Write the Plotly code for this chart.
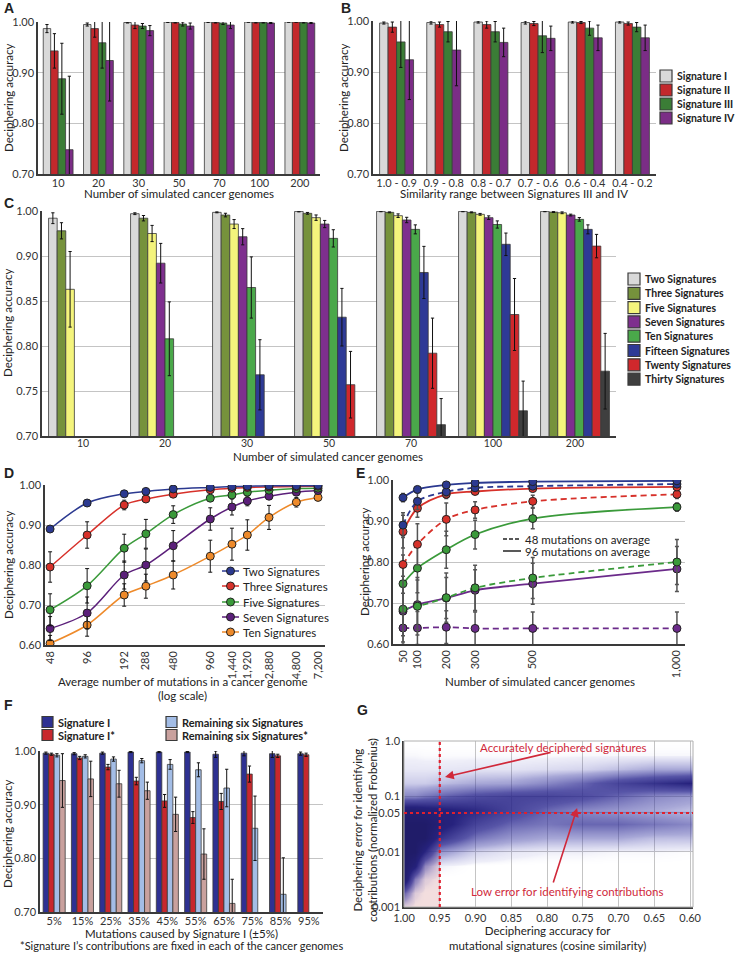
import numpy as np
import plotly.graph_objects as go

W, H = 739, 954
FONT = "Lato"
LBL = "Liberation Sans"

def fx(p):
    return p / W

def fy(p):
    return 1 - p / H

# ---------------- Panel A data ----------------
a_cats = ["10", "20", "30", "50", "70", "100", "200"]
a_sig1 = [0.987, 0.995, 0.999, 1.000, 1.000, 1.000, 1.000]
a_sig1_err = [0.008, 0.003, 0.001, 0.001, 0.001, 0.0005, 0.0005]
a_sig2 = [0.943, 0.987, 0.994, 0.999, 0.999, 0.999, 1.000]
a_sig2_err = [0.034, 0.017, 0.007, 0.001, 0.001, 0.001, 0.0005]
a_sig3 = [0.888, 0.959, 0.992, 0.996, 0.998, 0.999, 0.999]
a_sig3_err = [0.070, 0.050, 0.005, 0.004, 0.003, 0.001, 0.001]
a_sig4 = [0.748, 0.924, 0.983, 0.992, 0.994, 0.998, 0.998]
a_sig4_err = [0.145, 0.080, 0.010, 0.006, 0.007, 0.001, 0.001]

# ---------------- Panel B data ----------------
b_cats = ["1.0 - 0.9", "0.9 - 0.8", "0.8 - 0.7", "0.7 - 0.6", "0.6 - 0.4", "0.4 - 0.2"]
b_sig1 = [0.996, 0.997, 0.998, 0.997, 0.998, 0.998]
b_sig1_err = [0.002, 0.003, 0.002, 0.003, 0.002, 0.002]
b_sig2 = [0.988, 0.993, 0.993, 0.995, 0.997, 0.995]
b_sig2_err = [0.010, 0.005, 0.007, 0.004, 0.002, 0.003]
b_sig3 = [0.959, 0.979, 0.979, 0.971, 0.986, 0.988]
b_sig3_err = [0.050, 0.020, 0.020, 0.033, 0.014, 0.009]
b_sig4 = [0.924, 0.943, 0.958, 0.966, 0.967, 0.967]
b_sig4_err = [0.078, 0.070, 0.028, 0.024, 0.025, 0.025]

sig_names = ["Signature I", "Signature II", "Signature III", "Signature IV"]
sig_colors = ["#d9d9d9", "#c3282c", "#3b7d36", "#7b2d86"]

# ---------------- Panel C data ----------------
c_cats = ["10", "20", "30", "50", "70", "100", "200"]
c_names = ["Two Signatures", "Three Signatures", "Five Signatures", "Seven Signatures",
           "Ten Signatures", "Fifteen Signatures", "Twenty Signatures", "Thirty Signatures"]
c_colors = ["#d9d9d9", "#76923c", "#f4f47c", "#7e2f8e", "#4aa84a", "#2e3a96", "#d0282c", "#3f3f3f"]
c_two = [0.992, 0.997, 0.9985, 0.9995, 0.9996, 0.9996, 0.9996]
c_two_err = [0.006, 0.001, 0.0005, 0.0005, 0.0004, 0.0004, 0.0004]
c_three = [0.978, 0.992, 0.9955, 0.9974, 0.9985, 0.9985, 0.9988]
c_three_err = [0.009, 0.003, 0.002, 0.001, 0.0005, 0.0005, 0.0005]
c_five = [0.913, 0.975, 0.9855, 0.9926, 0.9948, 0.9963, 0.998]
c_five_err = [0.042, 0.009, 0.005, 0.003, 0.002, 0.001, 0.001]
c_seven = [None, 0.942, 0.9714, 0.9855, 0.990, 0.9926, 0.9955]
c_seven_err = [None, 0.022, 0.009, 0.004, 0.003, 0.002, 0.001]
c_ten = [None, 0.858, 0.915, 0.9696, 0.9796, 0.985, 0.9907]
c_ten_err = [None, 0.041, 0.034, 0.0096, 0.005, 0.004, 0.002]
c_fifteen = [None, None, 0.818, 0.882, 0.9317, 0.963, 0.9796]
c_fifteen_err = [None, None, 0.039, 0.032, 0.029, 0.0125, 0.005]
c_twenty = [None, None, None, 0.807, 0.842, 0.885, 0.961]
c_twenty_err = [None, None, None, 0.037, 0.039, 0.040, 0.013]
c_thirty = [None, None, None, None, 0.7626, 0.778, 0.822]
c_thirty_err = [None, None, None, None, 0.029, 0.033, 0.042]
c_ytickvals = [0.75, 0.80, 0.85, 0.90, 0.95, 1.00]
c_yticktext = ["0.70", "0.75", "0.80", "0.85", "0.90", "1.00"]

# ---------------- Panel D data ----------------
d_x = [48, 96, 192, 288, 480, 960, 1440, 1920, 2880, 4800, 7200]
d_tick = ["48", "96", "192", "288", "480", "960", "1,440", "1,920", "2,880", "4,800", "7,200"]
d_names = ["Two Signatures", "Three Signatures", "Five Signatures", "Seven Signatures", "Ten Signatures"]
d_colors = ["#2b3990", "#d7312a", "#3a9a3a", "#5b1f7a", "#ee8a2a"]
d_two = [0.890, 0.955, 0.978, 0.984, 0.990, 0.994, 0.996, 0.997, 0.998, 0.998, 0.999]
d_two_err = [0.004, 0.003, 0.002, 0.002, 0.002, 0.001, 0.001, 0.001, 0.001, 0.001, 0.001]
d_three = [0.795, 0.875, 0.950, 0.965, 0.977, 0.988, 0.992, 0.994, 0.995, 0.996, 0.997]
d_three_err = [0.038, 0.033, 0.012, 0.006, 0.004, 0.003, 0.002, 0.002, 0.002, 0.001, 0.001]
d_five = [0.688, 0.748, 0.842, 0.878, 0.926, 0.967, 0.975, 0.982, 0.987, 0.991, 0.992]
d_five_err = [0.040, 0.043, 0.035, 0.036, 0.022, 0.006, 0.005, 0.004, 0.003, 0.002, 0.002]
d_seven = [0.641, 0.680, 0.775, 0.800, 0.848, 0.915, 0.945, 0.960, 0.972, 0.982, 0.986]
d_seven_err = [0.030, 0.040, 0.035, 0.040, 0.038, 0.028, 0.020, 0.012, 0.006, 0.005, 0.004]
d_ten = [0.604, 0.650, 0.725, 0.747, 0.775, 0.822, 0.852, 0.875, 0.919, 0.957, 0.969]
d_ten_err = [0.020, 0.028, 0.028, 0.030, 0.035, 0.040, 0.040, 0.038, 0.030, 0.012, 0.008]

# ---------------- Panel E data ----------------
e_x = [50, 100, 200, 300, 500, 1000]
e_tick = ["50", "100", "200", "300", "500", "1,000"]
e_two_96 = [0.957, 0.977, 0.988, 0.993, 0.996, 0.998]
e_two_96_err = [0.010, 0.005, 0.004, 0.003, 0.003, 0.002]
e_two_48 = [0.890, 0.948, 0.971, 0.981, 0.985, 0.990]
e_two_48_err = [0.030, 0.020, 0.010, 0.008, 0.006, 0.005]
e_three_96 = [0.874, 0.931, 0.965, 0.972, 0.979, 0.983]
e_three_96_err = [0.040, 0.022, 0.010, 0.006, 0.005, 0.004]
e_three_48 = [0.794, 0.843, 0.904, 0.927, 0.948, 0.965]
e_three_48_err = [0.070, 0.050, 0.040, 0.020, 0.015, 0.010]
e_five_96 = [0.747, 0.785, 0.830, 0.867, 0.906, 0.934]
e_five_96_err = [0.070, 0.060, 0.045, 0.035, 0.025, 0.010]
e_five_48 = [0.685, 0.692, 0.713, 0.737, 0.761, 0.800]
e_five_48_err = [0.080, 0.070, 0.060, 0.055, 0.050, 0.055]
e_seven_96 = [0.680, 0.696, 0.712, 0.731, 0.747, 0.783]
e_seven_96_err = [0.060, 0.060, 0.050, 0.050, 0.050, 0.055]
e_seven_48 = [0.639, 0.639, 0.641, 0.638, 0.638, 0.638]
e_seven_48_err = [0.040, 0.040, 0.040, 0.040, 0.040, 0.040]

# ---------------- Panel F data ----------------
f_cats = ["5%", "15%", "25%", "35%", "45%", "55%", "65%", "75%", "85%", "95%"]
f_names = ["Signature I", "Signature I*", "Remaining six Signatures", "Remaining six Signatures*"]
f_colors = ["#2e3192", "#c8282d", "#a3bde6", "#c9a19e"]
f_sig1 = [0.996, 0.995, 0.996, 0.998, 0.998, 0.998, 0.994, 0.996, 0.995, 0.995]
f_sig1_err = [0.002, 0.002, 0.002, 0.001, 0.001, 0.001, 0.006, 0.005, 0.007, 0.003]
f_sig1s = [0.994, 0.987, 0.970, 0.944, 0.907, 0.876, 0.906, 0.957, 0.991, 0.993]
f_sig1s_err = [0.002, 0.003, 0.005, 0.007, 0.012, 0.011, 0.015, 0.015, 0.003, 0.003]
f_rem = [0.992, 0.990, 0.985, 0.982, 0.975, 0.965, 0.931, 0.856, 0.733, None]
f_rem_err = [0.003, 0.003, 0.004, 0.004, 0.009, 0.013, 0.035, 0.060, 0.068, None]
f_rems = [0.945, 0.948, 0.939, 0.926, 0.882, 0.808, 0.716, None, None, None]
f_rems_err = [0.050, 0.033, 0.025, 0.016, 0.032, 0.047, 0.045, None, None, None]

# ---------------- Panel G data (estimated point density) ----------------
g_x = [1.00, 0.985, 0.97, 0.95, 0.90, 0.85, 0.80, 0.75, 0.70, 0.65, 0.60]
g_log_err = [-3.0, -2.75, -2.5, -2.25, -2.0, -1.75, -1.5, -1.25, -1.0, -0.75, -0.5, -0.25, 0.0]
g_col_100 = [0.3, 4, 10, 10, 10, 10, 10, 9, 3, 1.2, 0.5, 0.2, 0]
g_col_0985 = [0, 0.5, 3, 8, 10, 10, 10, 9, 3, 1.2, 0.5, 0.2, 0]
g_col_097 = [0, 0, 0.5, 2.5, 7, 10, 10, 8.5, 3.5, 1.2, 0.5, 0.15, 0]
g_col_095 = [0, 0, 0, 0.3, 2.5, 6.5, 8.5, 8, 4, 1.5, 0.5, 0.15, 0]
g_col_090 = [0, 0, 0, 0, 1, 3.5, 5.5, 7, 5, 2, 0.6, 0.15, 0]
g_col_085 = [0, 0, 0, 0, 0.5, 2.5, 4, 5.5, 5.5, 2.2, 0.6, 0.15, 0]
g_col_080 = [0, 0, 0, 0, 0.3, 2, 3.5, 4, 5.5, 3, 0.8, 0.15, 0]
g_col_075 = [0, 0, 0, 0, 0.3, 2, 4, 3, 5, 4, 1, 0.2, 0]
g_col_070 = [0, 0, 0, 0, 0.2, 2, 4, 2.5, 4, 5.5, 1.5, 0.2, 0]
g_col_065 = [0, 0, 0, 0, 0.2, 1.5, 3.5, 2, 3, 6.5, 2, 0.2, 0]
g_col_060 = [0, 0, 0, 0, 0.1, 1.5, 3, 1.5, 2.5, 7.5, 2, 0.2, 0]
g_xticks = [1.00, 0.95, 0.90, 0.85, 0.80, 0.75, 0.70, 0.65, 0.60]
g_yticks = [0.001, 0.01, 0.05, 0.1, 1.0]
g_yticktext = ["0.001", "0.01", "0.05", "0.1", "1.0"]
g_acc_threshold = 0.95
g_err_threshold = 0.05

# =========================================================
fig = go.Figure()
layout = {}
shapes = []
annotations = []

TICKFONT = dict(family=FONT, size=11, color="#333")
GRID = "#c4c4c4"
AXLINE = "#3a3a3a"


def axis_keys(n):
    return ("xaxis" if n == 1 else f"xaxis{n}", "yaxis" if n == 1 else f"yaxis{n}",
            "x" if n == 1 else f"x{n}", "y" if n == 1 else f"y{n}")


def set_axes(n, xdom, ydom, xargs, yargs):
    xk, yk, xr, yr = axis_keys(n)
    xa = dict(domain=[fx(xdom[0]), fx(xdom[1])], anchor=yr, showline=True, linecolor=AXLINE,
              linewidth=1.5, ticks="", showgrid=False, zeroline=False, tickfont=TICKFONT,
              fixedrange=True, automargin=False)
    ya = dict(domain=[fy(ydom[1]), fy(ydom[0])], anchor=xr, showline=True, linecolor=AXLINE,
              linewidth=1.5, ticks="", showgrid=True, gridcolor=GRID, gridwidth=1, zeroline=False,
              tickfont=TICKFONT, fixedrange=True, automargin=False)
    xa.update(xargs)
    ya.update(yargs)
    layout[xk] = xa
    layout[yk] = ya
    return xr, yr


def ann(text, x, y, size=11.5, bold=False, color="#222", angle=0, xanchor="center",
        family=FONT, yanchor="middle"):
    if bold:
        text = f"<b>{text}</b>"
    annotations.append(dict(text=text, x=fx(x), y=fy(y), xref="paper", yref="paper",
                            showarrow=False, font=dict(family=family, size=size, color=color),
                            textangle=angle, xanchor=xanchor, yanchor=yanchor))


def add_bars(xr, yr, cats, series, errs, colors, gw):
    n = len(series)
    w = gw / n
    for i, (vals, er, col) in enumerate(zip(series, errs, colors)):
        fig.add_trace(go.Bar(
            x=cats, y=vals, width=w, offset=-gw / 2 + i * w, xaxis=xr, yaxis=yr,
            marker=dict(color=col, line=dict(color="#3a3a3a", width=0.8)),
            error_y=dict(type="data", array=er, color="#111", thickness=1, width=1.6),
            showlegend=False, hoverinfo="skip"))


def box_legend(names, colors, x0, rows, size=11, boxw=12, boxh=12):
    for nm, col, yy in zip(names, colors, rows):
        shapes.append(dict(type="rect", xref="paper", yref="paper", x0=fx(x0), x1=fx(x0 + boxw),
                           y0=fy(yy + boxh / 2), y1=fy(yy - boxh / 2), fillcolor=col,
                           line=dict(color="#3a3a3a", width=1.2)))
        ann(nm, x0 + boxw + 3, yy, size=size, bold=True, xanchor="left")


# ---------------- Panel A ----------------
xr, yr = set_axes(1, [38, 320], [22, 174],
                  dict(type="category", range=[-0.5, 6.5], ticklabelstandoff=-2),
                  dict(range=[0.70, 1.00], tickvals=[0.7, 0.8, 0.9, 1.0], tickformat=".2f"))
add_bars(xr, yr, a_cats, [a_sig1, a_sig2, a_sig3, a_sig4],
         [a_sig1_err, a_sig2_err, a_sig3_err, a_sig4_err], sig_colors, 0.74)
ann("A", 2, 8, size=14, bold=True, family=LBL, xanchor="left")
ann("Number of simulated cancer genomes", 179, 193)
ann("Deciphering accuracy", 8, 98, angle=-90)

# ---------------- Panel B ----------------
xr, yr = set_axes(2, [373, 656], [21, 174],
                  dict(type="category", range=[-0.5, 5.5], ticklabelstandoff=-2),
                  dict(range=[0.70, 1.00], tickvals=[0.7, 0.8, 0.9, 1.0], tickformat=".2f"))
add_bars(xr, yr, b_cats, [b_sig1, b_sig2, b_sig3, b_sig4],
         [b_sig1_err, b_sig2_err, b_sig3_err, b_sig4_err], sig_colors, 0.72)
ann("B", 339, 8, size=14, bold=True, family=LBL, xanchor="left")
ann("Similarity range between Signatures III and IV", 514, 193)
ann("Deciphering accuracy", 343, 98, angle=-90)
box_legend(sig_names, sig_colors, 660, [76, 90, 104, 118], size=10.5)

# ---------------- Panel C ----------------
xr, yr = set_axes(3, [42, 616], [211, 436],
                  dict(type="category", range=[-0.5, 6.5], ticklabelstandoff=-3,
                       tickfont=dict(family=FONT, size=10.5, color="#333")),
                  dict(range=[0.75, 1.00], tickvals=c_ytickvals, ticktext=c_yticktext))
add_bars(xr, yr, c_cats,
         [c_two, c_three, c_five, c_seven, c_ten, c_fifteen, c_twenty, c_thirty],
         [c_two_err, c_three_err, c_five_err, c_seven_err, c_ten_err, c_fifteen_err,
          c_twenty_err, c_thirty_err], c_colors, 0.84)
ann("C", 2, 203, size=14, bold=True, family=LBL, xanchor="left")
ann("Number of simulated cancer genomes", 328, 456)
ann("Deciphering accuracy", 8, 323, angle=-90)
box_legend(c_names, c_colors, 628, [279 + i * 14.3 for i in range(8)], size=10.5)

# ---------------- Panel D ----------------
xr, yr = set_axes(4, [45, 325], [485, 645],
                  dict(type="log", range=[1.640, 3.914], tickvals=d_x, ticktext=d_tick,
                       tickangle=-90),
                  dict(range=[0.60, 1.00], tickvals=[0.6, 0.7, 0.8, 0.9, 1.0], tickformat=".2f"))
d_series = [d_two, d_three, d_five, d_seven, d_ten]
d_errs = [d_two_err, d_three_err, d_five_err, d_seven_err, d_ten_err]
for vals, er, col in reversed(list(zip(d_series, d_errs, d_colors))):
    fig.add_trace(go.Scatter(
        x=d_x, y=vals, xaxis=xr, yaxis=yr, mode="lines+markers",
        line=dict(color=col, width=1.5, shape="spline", smoothing=0.9),
        marker=dict(size=8, color=col, line=dict(color="#222", width=1)),
        error_y=dict(type="data", array=er, color="#111", thickness=1, width=2),
        showlegend=False, hoverinfo="skip"))
ann("D", 2, 473, size=14, bold=True, family=LBL, xanchor="left")
ann("Average number of mutations in a cancer genome", 182, 681)
ann("(log scale)", 182, 695)
ann("Deciphering accuracy", 8, 565, angle=-90)
d_rows = [571, 586, 602, 617, 632]
for nm, col, yy in zip(d_names, d_colors, d_rows):
    shapes.append(dict(type="line", xref="paper", yref="paper", x0=fx(222), x1=fx(239),
                       y0=fy(yy), y1=fy(yy), line=dict(color=col, width=1.5)))
    shapes.append(dict(type="circle", xref="paper", yref="paper", x0=fx(226.5), x1=fx(234.5),
                       y0=fy(yy + 4), y1=fy(yy - 4), fillcolor=col,
                       line=dict(color="#222", width=1)))
    ann(nm, 241, yy, size=11.5, xanchor="left")

# ---------------- Panel E ----------------
xr, yr = set_axes(5, [393, 685], [480, 644],
                  dict(range=[15.3, 1028], tickvals=e_x, ticktext=e_tick, tickangle=-90),
                  dict(range=[0.60, 1.00], tickvals=[0.6, 0.7, 0.8, 0.9, 1.0], tickformat=".2f"))
e_series = [
    (e_seven_48, e_seven_48_err, "#6b2a8a", "dash"),
    (e_seven_96, e_seven_96_err, "#6b2a8a", "solid"),
    (e_five_48, e_five_48_err, "#3a9a3a", "dash"),
    (e_five_96, e_five_96_err, "#3a9a3a", "solid"),
    (e_three_48, e_three_48_err, "#d7312a", "dash"),
    (e_three_96, e_three_96_err, "#d7312a", "solid"),
    (e_two_48, e_two_48_err, "#2b3990", "dash"),
    (e_two_96, e_two_96_err, "#2b3990", "solid"),
]
for vals, er, col, dash in e_series:
    fig.add_trace(go.Scatter(
        x=e_x, y=vals, xaxis=xr, yaxis=yr, mode="lines+markers",
        line=dict(color=col, width=1.8, shape="spline", smoothing=0.9,
                  dash="6px,4px" if dash == "dash" else "solid"),
        marker=dict(size=8, color=col, line=dict(color="#222", width=1)),
        error_y=dict(type="data", array=er, color="#555", thickness=1.5, width=2),
        showlegend=False, hoverinfo="skip"))
ann("E", 354, 473, size=14, bold=True, family=LBL, xanchor="left")
ann("Number of simulated cancer genomes", 540, 681)
ann("Deciphering accuracy", 364, 562, angle=-90)
for label, dash, yy in [("48 mutations on average", "4px,2px", 539),
                        ("96 mutations on average", "solid", 551)]:
    shapes.append(dict(type="line", xref="paper", yref="paper", x0=fx(503), x1=fx(521),
                       y0=fy(yy), y1=fy(yy), line=dict(color="#222", width=1.5, dash=dash)))
    ann(label, 523, yy, size=11.5, xanchor="left")

# ---------------- Panel F ----------------
xr, yr = set_axes(6, [40, 323], [751, 912],
                  dict(type="category", range=[-0.5, 9.5], ticklabelstandoff=-2),
                  dict(range=[0.70, 1.00], tickvals=[0.7, 0.8, 0.9, 1.0], tickformat=".2f"))
add_bars(xr, yr, f_cats, [f_sig1, f_sig1s, f_rem, f_rems],
         [f_sig1_err, f_sig1s_err, f_rem_err, f_rems_err], f_colors, 0.78)
ann("F", 2, 705, size=14, bold=True, family=LBL, xanchor="left")
ann("Mutations caused by Signature I (±5%)", 181, 933)
ann("*Signature I’s contributions are fixed in each of the cancer genomes", 181, 945, size=11)
ann("Deciphering accuracy", 7, 834, angle=-90)
box_legend(f_names[:2], f_colors[:2], 42, [722, 735], size=11, boxw=11, boxh=11)
box_legend(f_names[2:], f_colors[2:], 166, [722, 735], size=11, boxw=11, boxh=11)

# ---------------- Panel G ----------------
g_ylog_ticks = [float(np.log10(v)) for v in g_yticks]
xr, yr = set_axes(7, [404, 693], [741, 907],
                  dict(range=[1.0, 0.596], tickvals=g_xticks,
                       ticktext=[f"{v:.2f}" for v in g_xticks], showgrid=True,
                       gridcolor=GRID, gridwidth=1),
                  dict(range=[-3, 0], tickvals=g_ylog_ticks, ticktext=g_yticktext))
g_z = np.array([g_col_100, g_col_0985, g_col_097, g_col_095, g_col_090, g_col_085, g_col_080,
                g_col_075, g_col_070, g_col_065, g_col_060]).T
fig.add_trace(go.Heatmap(
    x=g_x, y=g_log_err, z=g_z, xaxis=xr, yaxis=yr, zsmooth="best", zmin=0, zmax=10,
    colorscale=[[0, "rgba(255,255,255,0)"], [0.03, "rgba(90,90,190,0.10)"],
                [0.2, "rgba(60,60,165,0.45)"], [0.45, "rgba(45,42,145,0.8)"],
                [0.75, "rgb(38,34,125)"], [1, "rgb(32,28,105)"]],
    showscale=False, hoverinfo="skip"))
g_thr_log = float(np.log10(g_err_threshold))
shapes.append(dict(type="rect", xref=xr, yref=yr, x0=1.0, x1=g_acc_threshold, y0=-3, y1=g_thr_log,
                   fillcolor="#f3dede", line=dict(width=0), layer="below"))
shapes.append(dict(type="rect", xref=xr + " domain", yref=yr + " domain", x0=0, x1=1, y0=0, y1=1,
                   line=dict(color="#b0b0b0", width=1), layer="above"))
shapes.append(dict(type="line", xref=xr, yref=yr, x0=g_acc_threshold, x1=g_acc_threshold,
                   y0=-3, y1=0, line=dict(color="#e0202e", width=2.2, dash="dot")))
shapes.append(dict(type="line", xref=xr, yref=yr, x0=1.0, x1=0.596, y0=g_thr_log, y1=g_thr_log,
                   line=dict(color="#e0202e", width=2.2, dash="dot")))
RED = "#d0283a"
annotations.append(dict(text="", xref=xr, yref=yr, axref=xr, ayref=yr, x=0.9427, y=-0.651,
                        ax=0.793, ay=-0.199, showarrow=True, arrowhead=2, arrowsize=1.1,
                        arrowwidth=1.6, arrowcolor=RED))
annotations.append(dict(text="", xref=xr, yref=yr, axref=xr, ayref=yr, x=0.758, y=-1.211,
                        ax=0.792, ay=-2.584, showarrow=True, arrowhead=2, arrowsize=1.1,
                        arrowwidth=1.6, arrowcolor=RED))
ann("Accurately deciphered signatures", 563, 747, size=11.5, color=RED)
ann("Low error for identifying contributions", 567, 891, size=11.5, color=RED)
ann("G", 355, 710, size=14, bold=True, family=LBL, xanchor="left")
ann("Deciphering accuracy for<br>mutational signatures (cosine similarity)", 547, 938, size=11.5)
ann("Deciphering error for identifying<br>contributions (normalized Frobenius)", 365, 830,
    size=11.5, angle=-90)

layout.update(dict(
    width=W, height=H, margin=dict(l=0, r=0, t=0, b=0, autoexpand=False), barmode="overlay",
    plot_bgcolor="white", paper_bgcolor="white", showlegend=False,
    font=dict(family=FONT, size=11, color="#222"),
    shapes=shapes, annotations=annotations,
))
fig.update_layout(**layout)
fig.write_html("out.html", config={"displayModeBar": False},
               post_script="document.body.style.margin='0';document.body.style.padding='0';")
